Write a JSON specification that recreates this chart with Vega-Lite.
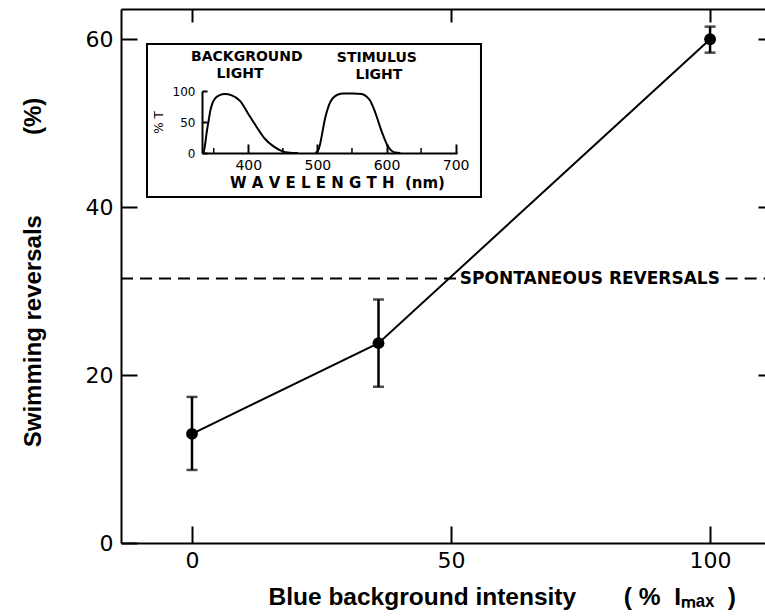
{
  "$schema": "https://vega.github.io/schema/vega-lite/v6.json",
  "autosize": {"type": "none"},
  "padding": {"left": 121, "top": 9, "right": 0, "bottom": 73},
  "width": 644,
  "height": 534,
  "background": "white",
  "config": {
    "view": {"stroke": null},
    "font": "DejaVu Sans",
    "axis": {"grid": false, "domainColor": "black", "tickColor": "black", "labelColor": "black", "titleColor": "black", "domainWidth": 2, "tickWidth": 2, "labelFont": "DejaVu Sans", "zindex": 1}
  },
  "datasets": {
    "points": [
      {"intensity": 0, "reversals": 13.0, "lo": 8.7, "hi": 17.4},
      {"intensity": 36, "reversals": 23.8, "lo": 18.6, "hi": 29.0},
      {"intensity": 100, "reversals": 60.0, "lo": 58.4, "hi": 61.5}
    ],
    "spontaneous": [
      {"from": -13.7, "to": 51, "level": 31.5},
      {"from": 103, "to": 110.6, "level": 31.5}
    ],
    "spontLabel": [{"x": 76.8, "level": 31.5, "label": "SPONTANEOUS  REVERSALS"}],
    "insetBox": [{"x1": 253.4, "x2": 736.7, "y1": -71, "y2": 175.8}],
    "curves": [
      {"series": "background", "nm": 335, "T": 0},
      {"series": "background", "nm": 337, "T": 10},
      {"series": "background", "nm": 340, "T": 35},
      {"series": "background", "nm": 343, "T": 55},
      {"series": "background", "nm": 345, "T": 68},
      {"series": "background", "nm": 348, "T": 80},
      {"series": "background", "nm": 352, "T": 88},
      {"series": "background", "nm": 358, "T": 93},
      {"series": "background", "nm": 366, "T": 95},
      {"series": "background", "nm": 376, "T": 93},
      {"series": "background", "nm": 388, "T": 84},
      {"series": "background", "nm": 400, "T": 63},
      {"series": "background", "nm": 412, "T": 42},
      {"series": "background", "nm": 424, "T": 23},
      {"series": "background", "nm": 436, "T": 11},
      {"series": "background", "nm": 448, "T": 3.5},
      {"series": "background", "nm": 460, "T": 0.5},
      {"series": "background", "nm": 472, "T": 0},
      {"series": "stimulus", "nm": 497, "T": 0},
      {"series": "stimulus", "nm": 501, "T": 4},
      {"series": "stimulus", "nm": 504, "T": 15},
      {"series": "stimulus", "nm": 507, "T": 32},
      {"series": "stimulus", "nm": 510, "T": 50},
      {"series": "stimulus", "nm": 513, "T": 64},
      {"series": "stimulus", "nm": 517, "T": 78},
      {"series": "stimulus", "nm": 522, "T": 88},
      {"series": "stimulus", "nm": 529, "T": 94},
      {"series": "stimulus", "nm": 538, "T": 96},
      {"series": "stimulus", "nm": 552, "T": 96},
      {"series": "stimulus", "nm": 564, "T": 95},
      {"series": "stimulus", "nm": 571, "T": 91},
      {"series": "stimulus", "nm": 576, "T": 85},
      {"series": "stimulus", "nm": 581, "T": 73},
      {"series": "stimulus", "nm": 586, "T": 58},
      {"series": "stimulus", "nm": 591, "T": 41},
      {"series": "stimulus", "nm": 596, "T": 26},
      {"series": "stimulus", "nm": 601, "T": 13},
      {"series": "stimulus", "nm": 606, "T": 5},
      {"series": "stimulus", "nm": 612, "T": 1},
      {"series": "stimulus", "nm": 620, "T": 0}
    ],
    "minorTicks": [
      {"nm": 350, "t0": 0, "t1": 8},
      {"nm": 450, "t0": 0, "t1": 8},
      {"nm": 550, "t0": 0, "t1": 8},
      {"nm": 650, "t0": 0, "t1": 8}
    ],
    "insetLabels": [
      {"nm": 397.8, "T": 154.8, "label": "BACKGROUND"},
      {"nm": 388, "T": 127.4, "label": "LIGHT"},
      {"nm": 586, "T": 153.2, "label": "STIMULUS"},
      {"nm": 589, "T": 125.8, "label": "LIGHT"}
    ]
  },
  "layer": [
    {
      "data": {"name": "spontaneous"},
      "mark": {"type": "rule", "strokeDash": [12, 7], "strokeWidth": 2, "color": "black"},
      "encoding": {
        "x": {"field": "from", "type": "quantitative", "scale": {"domain": [-13.7, 110.6], "nice": false, "zero": false}, "axis": null},
        "x2": {"field": "to"},
        "y": {"field": "level", "type": "quantitative", "scale": {"domain": [0, 63.6], "nice": false, "zero": false}, "axis": null}
      }
    },
    {
      "data": {"name": "spontLabel"},
      "mark": {"type": "text", "fontSize": 17, "fontWeight": "bold", "font": "DejaVu Sans", "align": "center", "baseline": "middle", "color": "black"},
      "encoding": {
        "x": {"field": "x", "type": "quantitative", "scale": {"domain": [-13.7, 110.6], "nice": false, "zero": false}, "axis": null},
        "y": {"field": "level", "type": "quantitative", "scale": {"domain": [0, 63.6], "nice": false, "zero": false}, "axis": null},
        "text": {"field": "label"}
      }
    },
    {
      "data": {"name": "points"},
      "mark": {"type": "line", "color": "black", "strokeWidth": 2},
      "encoding": {
        "x": {"field": "intensity", "type": "quantitative", "scale": {"domain": [-13.7, 110.6], "nice": false, "zero": false},
          "axis": {"orient": "bottom", "values": [0, 50, 100], "tickSize": -17, "labelPadding": 24, "labelFontSize": 22,
            "title": "Blue background intensity\u00a0\u00a0\u00a0\u00a0\u00a0\u00a0\u00a0(\u00a0%\u00a0\u00a0Iₘₐₓ\u00a0\u00a0)", "titleFont": "Liberation Sans", "titleFontSize": 24.5, "titleFontWeight": "bold",
            "titleX": 147, "titleY": 42, "titleAlign": "left", "titleBaseline": "top"}},
        "y": {"field": "reversals", "type": "quantitative", "scale": {"domain": [0, 63.6], "nice": false, "zero": false},
          "axis": {"orient": "left", "values": [0, 20, 40, 60], "tickSize": -16, "labelPadding": 24, "labelFontSize": 22,
            "title": "Swimming reversals\u00a0\u00a0\u00a0\u00a0\u00a0\u00a0\u00a0\u00a0\u00a0\u00a0\u00a0\u00a0(%)", "titleFont": "Liberation Sans", "titleFontSize": 24, "titleFontWeight": "bold",
            "titleX": -88, "titleY": 263, "titleAlign": "center", "titleBaseline": "middle", "titleAngle": -90}}
      }
    },
    {
      "data": {"name": "points"},
      "mark": {"type": "rule", "color": "black", "strokeWidth": 2.5},
      "encoding": {
        "x": {"field": "intensity", "type": "quantitative", "scale": {"domain": [-13.7, 110.6], "nice": false, "zero": false}, "axis": null},
        "y": {"field": "lo", "type": "quantitative", "scale": {"domain": [0, 63.6], "nice": false, "zero": false}, "axis": null},
        "y2": {"field": "hi"}
      }
    },
    {
      "data": {"name": "points"},
      "mark": {"type": "tick", "orient": "horizontal", "color": "black", "size": 11, "thickness": 2.5},
      "encoding": {
        "x": {"field": "intensity", "type": "quantitative", "scale": {"domain": [-13.7, 110.6], "nice": false, "zero": false}, "axis": null},
        "y": {"field": "lo", "type": "quantitative", "scale": {"domain": [0, 63.6], "nice": false, "zero": false}, "axis": null}
      }
    },
    {
      "data": {"name": "points"},
      "mark": {"type": "tick", "orient": "horizontal", "color": "black", "size": 11, "thickness": 2.5},
      "encoding": {
        "x": {"field": "intensity", "type": "quantitative", "scale": {"domain": [-13.7, 110.6], "nice": false, "zero": false}, "axis": null},
        "y": {"field": "hi", "type": "quantitative", "scale": {"domain": [0, 63.6], "nice": false, "zero": false}, "axis": null}
      }
    },
    {
      "data": {"name": "points"},
      "mark": {"type": "point", "filled": true, "color": "black", "size": 140, "opacity": 1},
      "encoding": {
        "x": {"field": "intensity", "type": "quantitative", "scale": {"domain": [-13.7, 110.6], "nice": false, "zero": false},
          "axis": {"orient": "top", "values": [0, 50, 100], "tickSize": -13, "labels": false, "title": null}},
        "y": {"field": "reversals", "type": "quantitative", "scale": {"domain": [0, 63.6], "nice": false, "zero": false},
          "axis": {"orient": "right", "values": [20, 40, 60], "tickSize": -7, "labels": false, "domain": false, "title": null}}
      }
    },
    {
      "data": {"name": "insetBox"},
      "mark": {"type": "rect", "fill": "white", "stroke": "black", "strokeWidth": 2},
      "encoding": {
        "x": {"field": "x1", "type": "quantitative", "scale": {"domain": [333, 702], "range": [81, 336], "nice": false, "zero": false}, "axis": null},
        "x2": {"field": "x2"},
        "y": {"field": "y1", "type": "quantitative", "scale": {"domain": [0, 100], "range": [144, 82], "nice": false, "zero": false}, "axis": null},
        "y2": {"field": "y2"}
      }
    },
    {
      "data": {"name": "curves"},
      "mark": {"type": "line", "color": "black", "strokeWidth": 2, "interpolate": "monotone"},
      "encoding": {
        "x": {"field": "nm", "type": "quantitative",
          "scale": {"domain": [333, 702], "range": [81, 336], "nice": false, "zero": false},
          "axis": {"orient": "bottom", "offset": -390, "values": [400, 500, 600, 700], "tickSize": -9, "labelPadding": 14, "labelFontSize": 14, "zindex": 2,
            "title": "W A V E L E N G T H\u00a0\u00a0(nm)", "titleFontSize": 15, "titleFontWeight": "bold", "titleX": 216, "titleY": 29, "titleBaseline": "middle", "titleAlign": "center"}},
        "y": {"field": "T", "type": "quantitative",
          "scale": {"domain": [0, 100], "range": [144, 82], "nice": false, "zero": false},
          "axis": {"orient": "left", "offset": -81, "values": [0, 50, 100], "tickSize": -5, "labelPadding": 12, "labelFontSize": 12, "zindex": 2,
            "title": "% T", "titleFontSize": 12, "titleFontWeight": "normal", "titleX": -44, "titleY": 113, "titleBaseline": "middle", "titleAlign": "center", "titleAngle": -90}},
        "detail": {"field": "series"}
      }
    },
    {
      "data": {"name": "minorTicks"},
      "mark": {"type": "rule", "color": "black", "strokeWidth": 1.5},
      "encoding": {
        "x": {"field": "nm", "type": "quantitative", "scale": {"domain": [333, 702], "range": [81, 336], "nice": false, "zero": false}, "axis": null},
        "y": {"field": "t0", "type": "quantitative", "scale": {"domain": [0, 100], "range": [144, 82], "nice": false, "zero": false}, "axis": null},
        "y2": {"field": "t1"}
      }
    },
    {
      "data": {"name": "insetLabels"},
      "mark": {"type": "text", "fontSize": 14, "fontWeight": "bold", "align": "center", "baseline": "middle", "color": "black"},
      "encoding": {
        "x": {"field": "nm", "type": "quantitative", "scale": {"domain": [333, 702], "range": [81, 336], "nice": false, "zero": false}, "axis": null},
        "y": {"field": "T", "type": "quantitative", "scale": {"domain": [0, 100], "range": [144, 82], "nice": false, "zero": false}, "axis": null},
        "text": {"field": "label"}
      }
    }
  ],
  "resolve": {"scale": {"x": "independent", "y": "independent"}, "axis": {"x": "independent", "y": "independent"}}
}
